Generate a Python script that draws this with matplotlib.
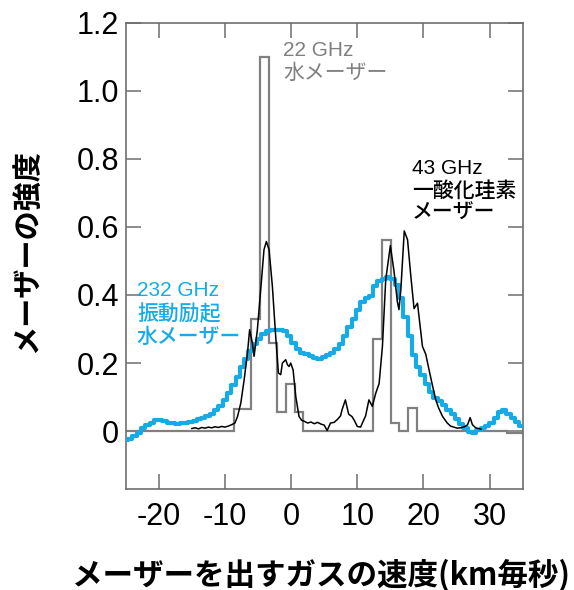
import matplotlib
matplotlib.use("Agg")
import matplotlib.pyplot as plt

plt.rcParams['font.family'] = ['Liberation Sans', 'Noto Sans CJK JP', 'DejaVu Sans']

# 22 GHz water maser (step histogram): channel edges and levels
water22_edges = [-25, -8.7, -6.05, -4.72, -3.40, -2.08, -0.76, 0.56, 1.86,
                 12.42, 13.74, 15.06, 16.38, 17.70, 19.02, 32.6, 35]
water22_vals = [0, 0.065, 0.33, 1.10, 0.26, 0.055, 0.14, 0.055, 0,
                0.27, 0.56, 0.025, 0, 0.068, 0, -0.006]

# 232 GHz vibrationally excited water maser
v232 = [-25.0, -24.3, -23.7, -23.0, -22.4, -21.7, -21.1, -20.4, -19.8, -19.1,
        -18.5, -17.8, -17.2, -16.5, -15.9, -15.2, -14.6, -13.9, -13.3, -12.6,
        -12.0, -11.3, -10.7, -10.0, -9.4, -8.7, -8.1, -7.4, -6.8, -6.1,
        -5.5, -4.8, -4.2, -3.5, -2.9, -2.2, -1.6, -0.9, -0.3, 0.4,
        1.0, 1.7, 2.3, 3.0, 3.6, 4.3, 4.9, 5.6, 6.2, 6.9,
        7.5, 8.2, 8.8, 9.5, 10.1, 10.8, 11.4, 12.1, 12.7, 13.4,
        14.0, 14.7, 15.3, 16.0, 16.6, 17.3, 17.9, 18.6, 19.2, 19.9,
        20.5, 21.2, 21.8, 22.5, 23.1, 23.8, 24.4, 25.1, 25.7, 26.4,
        27.0, 27.7, 28.3, 29.0, 29.6, 30.3, 30.9, 31.6, 32.2, 32.9,
        33.5, 34.2, 34.8]
i232 = [-0.025, -0.022, -0.015, -0.005, 0.008, 0.018, 0.025, 0.033, 0.034, 0.029,
        0.025, 0.023, 0.022, 0.023, 0.025, 0.027, 0.030, 0.035, 0.040, 0.046,
        0.052, 0.062, 0.075, 0.092, 0.113, 0.135, 0.160, 0.188, 0.212, 0.236,
        0.255, 0.272, 0.285, 0.294, 0.298, 0.298, 0.297, 0.293, 0.280, 0.258,
        0.240, 0.230, 0.226, 0.222, 0.215, 0.213, 0.219, 0.225, 0.231, 0.240,
        0.255, 0.280, 0.305, 0.330, 0.355, 0.378, 0.390, 0.398, 0.425, 0.440,
        0.448, 0.454, 0.448, 0.430, 0.390, 0.335, 0.280, 0.225, 0.190, 0.165,
        0.140, 0.115, 0.098, 0.088, 0.076, 0.062, 0.052, 0.036, 0.022, 0.008,
        -0.002, -0.004, 0.004, 0.010, 0.014, 0.025, 0.040, 0.056, 0.062, 0.050,
        0.038, 0.026, 0.014]

# 43 GHz silicon monoxide maser
v43 = [-15.0, -14.5, -14.0, -13.5, -13.0, -12.5, -12.0, -11.5, -11.0, -10.5,
       -10.0, -9.5, -9.0, -8.5, -8.1, -7.6, -7.1, -6.6, -6.27, -5.86,
       -5.6, -5.1, -4.6, -4.1, -3.74, -3.33, -2.83, -2.33, -1.92, -1.57,
       -1.32, -0.82, -0.55, -0.3, -0.06, 0.3, 0.7, 1.2, 1.6, 2.0,
       2.5, 3.0, 3.5, 4.0, 4.5, 5.0, 5.45, 5.95, 6.5, 6.97,
       7.47, 7.7, 8.2, 8.7, 9.2, 9.6, 10.0, 10.5, 11.0, 11.26,
       11.76, 12.27, 12.8, 13.3, 13.8, 14.3, 15.0, 15.55, 16.06, 16.3,
       16.6, 17.1, 17.6, 18.07, 18.58, 19.1, 19.85, 20.35, 20.85, 21.3,
       21.86, 22.3, 22.9, 23.6, 24.1, 24.6, 25.1, 25.65, 26.2, 26.67,
       27.06, 27.4, 27.9, 28.7]
i43 = [0.008, 0.010, 0.007, 0.011, 0.009, 0.012, 0.010, 0.013, 0.011, 0.014,
       0.012, 0.015, 0.019, 0.024, 0.043, 0.083, 0.151, 0.229, 0.298, 0.259,
       0.22, 0.298, 0.415, 0.533, 0.557, 0.533, 0.425, 0.278, 0.171, 0.166,
       0.200, 0.210, 0.195, 0.190, 0.200, 0.180, 0.102, 0.043, 0.032, 0.029,
       0.024, 0.027, 0.022, 0.026, 0.021, 0.018, 0.002, 0.024, 0.026, 0.034,
       0.045, 0.063, 0.092, 0.050, 0.043, 0.030, 0.014, 0.012, 0.034, 0.045,
       0.092, 0.073, 0.112, 0.140, 0.249, 0.445, 0.545, 0.470, 0.380, 0.357,
       0.420, 0.588, 0.562, 0.460, 0.360, 0.376, 0.249, 0.226, 0.180, 0.140,
       0.092, 0.068, 0.043, 0.024, 0.015, 0.012, 0.009, 0.010, 0.013, 0.019,
       0.040, 0.019, 0.010, 0.006]

xticks = [-20, -10, 0, 10, 20, 30]
xtick_labels = ['-20', '-10', '0', '10', '20', '30']
yticks = [0, 0.2, 0.4, 0.6, 0.8, 1.0, 1.2]
ytick_labels = ['0', '0.2', '0.4', '0.6', '0.8', '1.0', '1.2']

gray = '#808080'
blue = '#16abe6'
axis_col = '#6e6e6e'

fig = plt.figure(figsize=(5.74, 5.90), dpi=100)
ax = fig.add_axes([0.219, 0.171, 0.6916, 0.7908])

ax.stairs(water22_vals, water22_edges, color=gray, lw=1.6, zorder=2)
ax.plot(v232, i232, drawstyle='steps-mid', color=blue, lw=3.0, zorder=3)
ax.plot(v43, i43, color='black', lw=1.1, zorder=4)

ax.set_xlim(-25, 35)
ax.set_ylim(-0.17, 1.2)
ax.set_xticks(xticks)
ax.set_xticklabels(xtick_labels)
ax.set_yticks(yticks)
ax.set_yticklabels(ytick_labels)

ax.tick_params(direction='in', length=11, width=1.1, color=axis_col,
               labelsize=22, top=True, right=True)
ax.tick_params(axis='x', pad=9)
ax.tick_params(axis='y', pad=5)
for s in ax.spines.values():
    s.set_color(axis_col)
    s.set_linewidth(1.2)

cjk = ['Noto Sans CJK JP', 'DejaVu Sans']
mixed = ['Liberation Sans', 'Noto Sans CJK JP', 'DejaVu Sans']

ax.text(-1.2, 1.145, '22 GHz\n水メーザー', color=gray, fontsize=15,
        family=mixed, va='top', ha='left', linespacing=1.2)
ax.text(18.3, 0.80, '43 GHz\n一酸化珪素\nメーザー', color='black', fontsize=15,
        family=mixed, va='top', ha='left', linespacing=1.2, weight='medium')
ax.text(-23.3, 0.44, '232 GHz\n振動励起\n水メーザー', color=blue, fontsize=15,
        family=mixed, va='top', ha='left', linespacing=1.2, weight='medium')

fig.text(0.045, 0.575, 'メーザーの強度', rotation=90, fontsize=21,
         family=cjk, weight='bold', ha='center', va='center')
fig.text(0.56, 0.025, 'メーザーを出すガスの速度(km毎秒)', fontsize=22,
         family=cjk, weight='bold', ha='center', va='center')

fig.savefig('out.png', dpi=100)
